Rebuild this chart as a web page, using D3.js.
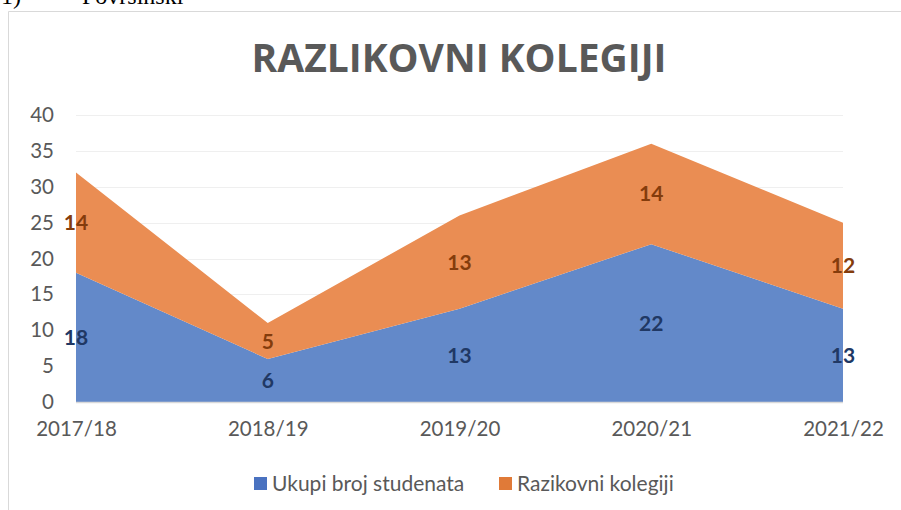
<!DOCTYPE html>
<html>
<head>
<meta charset="utf-8">
<script src="https://cdn.jsdelivr.net/npm/d3@7"></script>
<style>
  html, body { margin: 0; padding: 0; background: #fff; }
  svg { display: block; }
</style>
</head>
<body>
<svg id="chart" width="901" height="510"></svg>
<script>
// Academic years on the x axis
const years = ["2017/18", "2018/19", "2019/20", "2020/21", "2021/22"];
// Stacked series values
const ukupiBrojStudenata = [18, 6, 13, 22, 13];
const razikovniKolegiji = [14, 5, 13, 14, 12];
const seriesNames = ["Ukupi broj studenata", "Razikovni kolegiji"];
const yTicks = [0, 5, 10, 15, 20, 25, 30, 35, 40];

const colors = ["#6489c9", "#ea8d52"];
const legendColors = ["#4a72c0", "#e07a38"];
const labelColors = ["#203864", "#843c0c"];
const font = "Lato, 'Open Sans', sans-serif";
const titleFont = "'Open Sans', 'Noto Sans', sans-serif";

const svg = d3.select("#chart");
const W = 901, H = 510;

// page text above the chart frame (mostly cut off)
svg.append("text").attr("x", 1).attr("y", 4)
  .attr("font-family", "'Liberation Serif', serif").attr("font-size", 24).attr("fill", "#000")
  .text("1)");
svg.append("text").attr("x", 82).attr("y", 4)
  .attr("font-family", "'Liberation Serif', serif").attr("font-size", 24).attr("fill", "#000")
  .text("Površinski");

// chart frame
svg.append("path")
  .attr("d", `M8.5,${H} V11.5 H${W}`)
  .attr("fill", "none").attr("stroke", "#d9d9d9").attr("stroke-width", 1);

// title
svg.append("text")
  .attr("x", 459).attr("y", 72)
  .attr("text-anchor", "middle")
  .attr("font-family", titleFont).attr("font-weight", 700).attr("font-size", 39)
  .attr("fill", "#595959")
  .text("RAZLIKOVNI KOLEGIJI");

const x = d3.scalePoint().domain(years).range([76, 843]);
const y = d3.scaleLinear().domain([0, 40]).range([402, 115]);

// gridlines
svg.append("g").selectAll("line").data(yTicks.filter(t => t > 0)).join("line")
  .attr("x1", 76).attr("x2", 843)
  .attr("y1", d => Math.round(y(d)) + 0.5).attr("y2", d => Math.round(y(d)) + 0.5)
  .attr("stroke", "#efefef").attr("stroke-width", 1.2);

// stacked data
const table = years.map((yr, i) => ({ year: yr, a: ukupiBrojStudenata[i], b: razikovniKolegiji[i] }));
const stacked = d3.stack().keys(["a", "b"])(table);

const area = d3.area()
  .x(d => x(d.data.year))
  .y0(d => y(d[0]))
  .y1(d => y(d[1]));

const defs = svg.append("defs");
const blur = defs.append("filter").attr("id", "soft").attr("x", "-5%").attr("y", "-5%").attr("width", "110%").attr("height", "110%");
blur.append("feGaussianBlur").attr("stdDeviation", 0.6);

svg.append("g").selectAll("path").data(stacked).join("path")
  .attr("d", area)
  .attr("fill", (d, i) => colors[i])
  .attr("filter", "url(#soft)");

// x baseline
svg.append("line")
  .attr("x1", 76).attr("x2", 843).attr("y1", 402.5).attr("y2", 402.5)
  .attr("stroke", "#d9d9d9").attr("stroke-width", 1.5);

// y axis labels
const yAxis = d3.axisLeft(y).tickValues(yTicks).tickSize(0).tickPadding(0);
const yg = svg.append("g").attr("transform", "translate(54,0)").call(yAxis);
yg.select(".domain").remove();
yg.selectAll("text").attr("font-family", font).attr("font-size", 20.5).attr("fill", "#595959");

// x axis labels
const xAxis = d3.axisBottom(x).tickSize(0).tickPadding(0);
const xg = svg.append("g").attr("transform", "translate(0,421)").call(xAxis);
xg.select(".domain").remove();
xg.selectAll("text").attr("font-family", font).attr("font-size", 20.5).attr("fill", "#595959");

// data labels centred in each band
stacked.forEach((s, si) => {
  svg.append("g").selectAll("text").data(s).join("text")
    .attr("x", d => x(d.data.year))
    .attr("y", d => y((d[0] + d[1]) / 2))
    .attr("dy", "0.36em")
    .attr("text-anchor", "middle")
    .attr("font-family", font).attr("font-weight", 700).attr("font-size", 21)
    .attr("fill", labelColors[si])
    .text(d => d[1] - d[0]);
});

// legend
const legendItems = [
  { name: seriesNames[0], color: legendColors[0], x: 254 },
  { name: seriesNames[1], color: legendColors[1], x: 499 }
];
const lg = svg.append("g");
legendItems.forEach(it => {
  lg.append("rect").attr("x", it.x).attr("y", 477).attr("width", 13).attr("height", 13).attr("fill", it.color);
  lg.append("text").attr("x", it.x + 18).attr("y", 483).attr("dy", "0.36em")
    .attr("font-family", font).attr("font-size", 21).attr("fill", "#595959")
    .text(it.name);
});
</script>
</body>
</html>
